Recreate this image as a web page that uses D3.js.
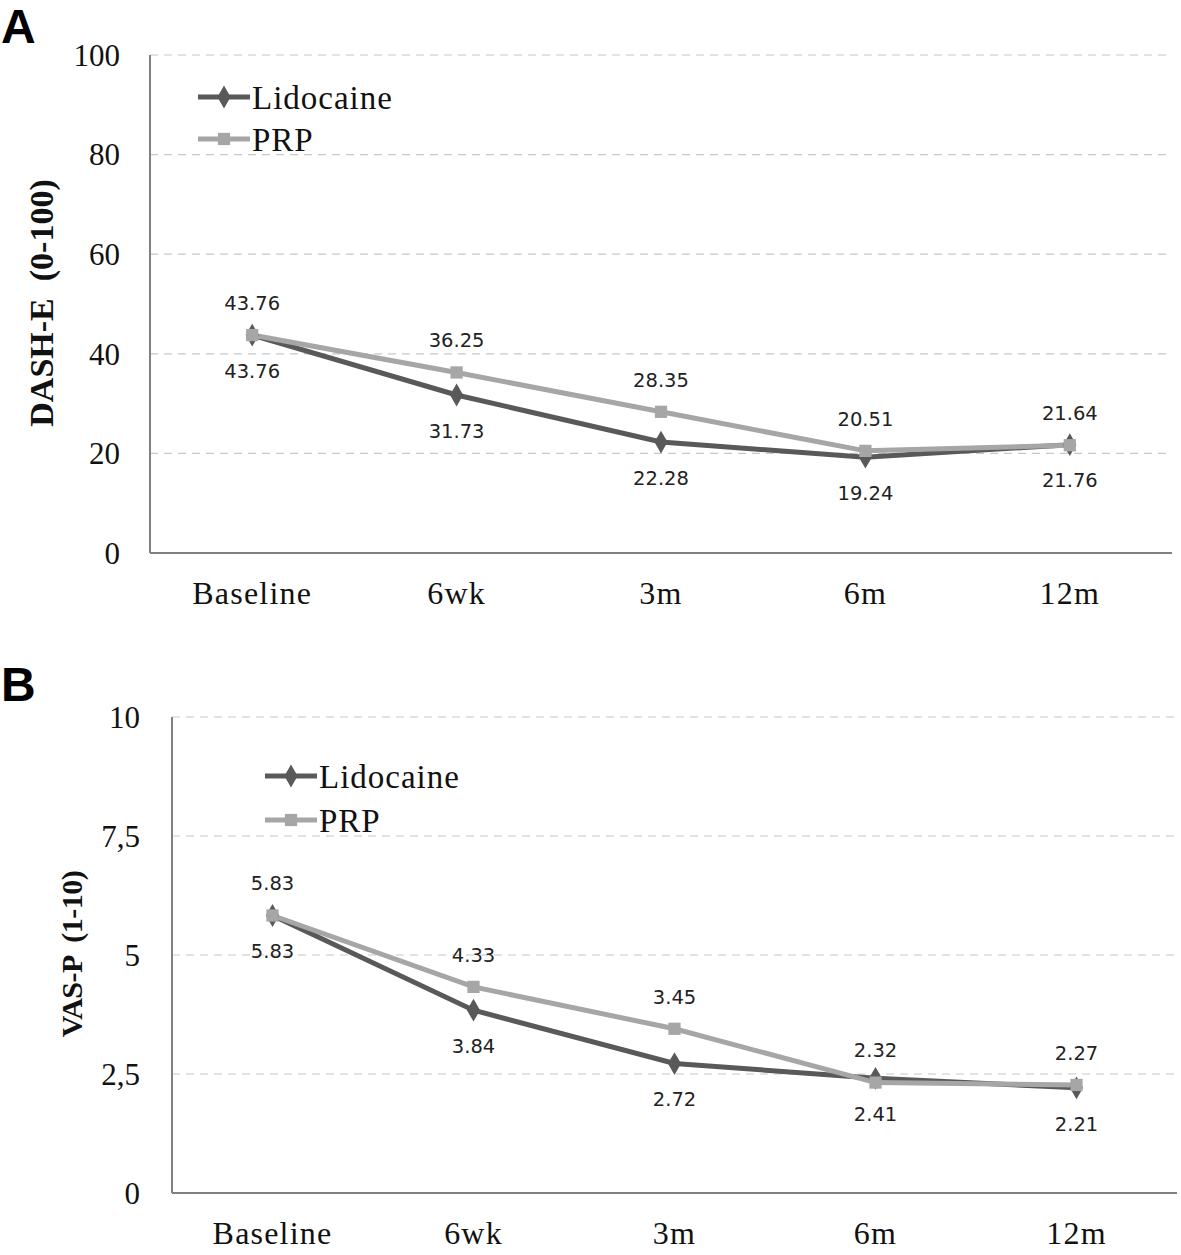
<!DOCTYPE html>
<html><head><meta charset="utf-8">
<script src="https://cdn.jsdelivr.net/npm/d3@7"></script>
<style>body{margin:0;background:#fff}</style>
</head><body>
<svg id="c" width="1181" height="1255"></svg>
<script>
const categories = ["Baseline","6wk","3m","6m","12m"];
const dashLido = [43.76,31.73,22.28,19.24,21.76];
const dashPRP  = [43.76,36.25,28.35,20.51,21.64];
const vasLido  = [5.83,3.84,2.72,2.41,2.21];
const vasPRP   = [5.83,4.33,3.45,2.32,2.27];
const dashTicks = [0,20,40,60,80,100];
const dashTickLabels = ["0","20","40","60","80","100"];
const vasTicks = [0,2.5,5,7.5,10];
const vasTickLabels = ["0","2,5","5","7,5","10"];
const seriesNames = ["Lidocaine","PRP"];

const svg = d3.select("#c");
const LIDO = "#595959", PRP = "#a6a6a6";

function panel(cfg){
  const g = svg.append("g");
  const x = d3.scaleBand().domain(categories).range([cfg.left, cfg.right]);
  const y = d3.scaleLinear().domain([0, cfg.max]).range([cfg.bottom, cfg.top]);
  cfg.ticks.forEach((t,i)=>{
    if(t>0) g.append("line").attr("x1",cfg.left).attr("x2",cfg.right)
      .attr("y1",y(t)).attr("y2",y(t)).attr("stroke","#c8c8c8").attr("stroke-width",1.2)
      .attr("stroke-dasharray","8,6");
    g.append("text").attr("x",cfg.tickX).attr("y",y(t)).attr("dy","0.35em")
      .attr("text-anchor","end").attr("font-family","Liberation Serif, serif")
      .attr("font-size",31).attr("fill","#111").text(cfg.tickLabels[i]);
  });
  g.append("line").attr("x1",cfg.left).attr("x2",cfg.left).attr("y1",cfg.top).attr("y2",cfg.bottom)
    .attr("stroke","#808080").attr("stroke-width",2);
  g.append("line").attr("x1",cfg.left).attr("x2",cfg.right).attr("y1",cfg.bottom).attr("y2",cfg.bottom)
    .attr("stroke","#808080").attr("stroke-width",2);
  categories.forEach(c=>{
    g.append("text").attr("x",x(c)+x.bandwidth()/2).attr("y",cfg.bottom+51)
      .attr("text-anchor","middle").attr("font-family","Liberation Serif, serif")
      .attr("font-size",32).attr("letter-spacing",1.2).attr("fill","#111").text(c);
  });
  g.append("text").attr("transform",`translate(${cfg.titleX},${cfg.titleY}) rotate(-90)`)
    .attr("text-anchor","middle").attr("font-family","Liberation Serif, serif")
    .attr("font-weight","bold").attr("font-size",cfg.titleSize).attr("letter-spacing",cfg.titleLS)
    .attr("fill","#111").attr("xml:space","preserve").text(cfg.title);
  g.append("text").attr("x",1).attr("y",cfg.letterY).attr("font-family","Liberation Sans, Arial, sans-serif")
    .attr("font-weight","bold").attr("font-size",48).attr("fill","#000").text(cfg.letter);

  const cx = c => x(c)+x.bandwidth()/2;
  const line = d3.line().x((d,i)=>cx(categories[i])).y(d=>y(d));
  const diamond = d3.symbol().type(d3.symbolDiamond).size(150);
  const square = d3.symbol().type(d3.symbolSquare).size(150);
  g.append("path").datum(cfg.lido).attr("d",line).attr("fill","none").attr("stroke",LIDO).attr("stroke-width",5);
  g.append("path").datum(cfg.prp).attr("d",line).attr("fill","none").attr("stroke",PRP).attr("stroke-width",5);
  cfg.lido.forEach((v,i)=>{
    g.append("path").attr("d",diamond).attr("transform",`translate(${cx(categories[i])},${y(v)})`).attr("fill",LIDO);
  });
  cfg.prp.forEach((v,i)=>{
    g.append("path").attr("d",square).attr("transform",`translate(${cx(categories[i])},${y(v)})`).attr("fill",PRP);
  });
  const fmt = d3.format(".2f");
  cfg.prp.forEach((v,i)=>{
    g.append("text").attr("x",cx(categories[i])).attr("y",y(v)-32).attr("dy","0.35em")
      .attr("text-anchor","middle").attr("font-family","DejaVu Sans, sans-serif")
      .attr("font-size",19.5).attr("fill","#222").text(fmt(v));
  });
  cfg.lido.forEach((v,i)=>{
    g.append("text").attr("x",cx(categories[i])).attr("y",y(v)+36).attr("dy","0.35em")
      .attr("text-anchor","middle").attr("font-family","DejaVu Sans, sans-serif")
      .attr("font-size",19.5).attr("fill","#222").text(fmt(v));
  });
  const cols=[LIDO,PRP], syms=[diamond,square];
  seriesNames.forEach((n,i)=>{
    const ly = cfg.legY + i*cfg.legGap;
    g.append("line").attr("x1",cfg.legX).attr("x2",cfg.legX+52).attr("y1",ly).attr("y2",ly)
      .attr("stroke",cols[i]).attr("stroke-width",5);
    g.append("path").attr("d",syms[i]).attr("transform",`translate(${cfg.legX+26},${ly})`).attr("fill",cols[i]);
    g.append("text").attr("x",cfg.legX+54).attr("y",ly).attr("dy","0.35em")
      .attr("font-family","Liberation Serif, serif").attr("font-size",33).attr("letter-spacing",1)
      .attr("fill","#111").text(n);
  });
}

panel({left:150,right:1172,top:55,bottom:553,max:100,ticks:dashTicks,tickLabels:dashTickLabels,
  tickX:120,titleX:53,titleY:303,titleSize:34,titleLS:0,title:"DASH-E  (0-100)",letter:"A",letterY:43,lido:dashLido,prp:dashPRP,
  legX:198,legY:97,legGap:42});
panel({left:172,right:1177,top:717,bottom:1193,max:10,ticks:vasTicks,tickLabels:vasTickLabels,
  tickX:140,titleX:82,titleY:954,titleSize:30,titleLS:-0.5,title:"VAS-P  (1-10)",letter:"B",letterY:701,lido:vasLido,prp:vasPRP,
  legX:265,legY:776,legGap:44});
</script>
</body></html>
